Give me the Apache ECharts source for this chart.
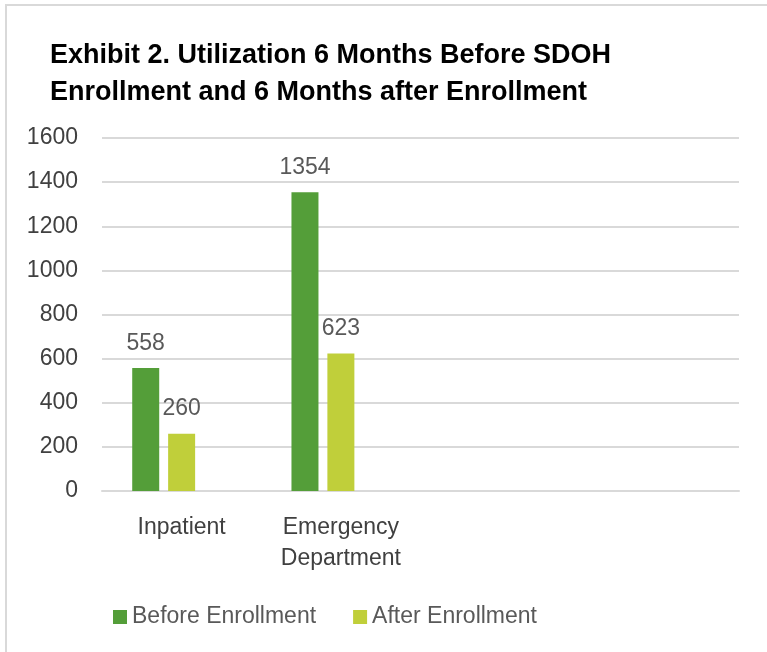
<!DOCTYPE html>
<html><head><meta charset="utf-8">
<script src="https://cdn.jsdelivr.net/npm/echarts@6/dist/echarts.min.js"></script>
<style>
html,body{margin:0;padding:0;background:#fff;}
#frame{position:absolute;left:5px;top:4px;width:780px;height:660px;border-top:2px solid #d9d9d9;border-left:2px solid #d9d9d9;}
#c{position:absolute;left:0;top:0;width:767px;height:652px;}
</style></head><body>
<div id="frame"></div>
<div id="c"></div>
<script>
const categories = ['Inpatient', 'Emergency\nDepartment', '', ''];
const beforeValues = [558, 1354, null, null];
const afterValues = [260, 623, null, null];
const spacerValues = [null, null, null, null];
const seriesNames = ['Before Enrollment', 'After Enrollment'];
const titleText = 'Exhibit 2. Utilization 6 Months Before SDOH\nEnrollment and 6 Months after Enrollment';

const FONT = 'Liberation Sans';
const FS = 23;
const chart = echarts.init(document.getElementById('c'), null, {renderer: 'canvas'});
const labelCfg = {show: true, position: 'top', distance: 13, color: '#595959', fontSize: FS, fontFamily: FONT};
chart.setOption({
  animation: false,
  backgroundColor: 'transparent',
  title: {text: titleText, left: 45, top: 32, textStyle: {fontFamily: FONT, fontWeight: 'bold', fontSize: 27, lineHeight: 37, color: '#000'}},
  legend: {top: 600, left: 108, itemWidth: 14, itemHeight: 14, itemGap: 37, icon: 'rect',
    data: seriesNames, textStyle: {fontFamily: FONT, fontSize: FS, color: '#595959', lineHeight: 24}},
  grid: {left: 102, right: 28, top: 138, bottom: 161, containLabel: false},
  xAxis: {type: 'category', data: categories,
    axisLine: {lineStyle: {color: '#d9d9d9', width: 2}}, axisTick: {show: false},
    axisLabel: {fontFamily: FONT, fontSize: FS, color: '#404040', margin: 21, lineHeight: 31, interval: 0}},
  yAxis: {type: 'value', min: 0, max: 1600, interval: 200,
    axisLine: {show: false}, axisTick: {show: false},
    splitLine: {lineStyle: {color: '#d9d9d9', width: 2}},
    axisLabel: {fontFamily: FONT, fontSize: FS, color: '#404040', margin: 24, formatter: v => String(v)}},
  series: [
    {name: seriesNames[0], type: 'bar', data: beforeValues, barWidth: 27, barGap: '33%', itemStyle: {color: '#549e39'}, label: labelCfg},
    {name: seriesNames[1], type: 'bar', data: afterValues, barWidth: 27, barGap: '33%', itemStyle: {color: '#c0cf3a'}, label: labelCfg},
    {name: 'spacer', type: 'bar', data: spacerValues, barWidth: 27, barGap: '33%', itemStyle: {color: 'transparent'}}
  ]
});
</script></body></html>
